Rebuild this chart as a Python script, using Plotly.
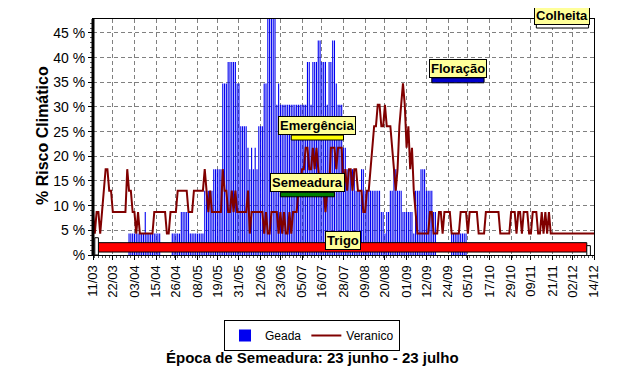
import plotly.graph_objects as go
import pandas as pd

# ---------------- data ----------------
N_ANOS = 23  # years in the series; values are counts of years with occurrence
START = "2001-03-11"
END = "2001-12-14"

# Geada: number of years with frost per day (11/03 .. 14/12)
geada_anos = [
    0, 0, 0, 0, 0, 0, 0, 0, 0, 0,
    0, 0, 0, 0, 0, 0, 0, 0, 0, 0,
    1, 1, 1, 1, 1, 1, 1, 1, 1, 2,
    1, 1, 1, 1, 1, 1, 1, 1, 0, 0,
    0, 0, 0, 0, 1, 1, 1, 1, 1, 2,
    2, 2, 2, 2, 1, 1, 1, 1, 1, 1,
    1, 1, 3, 3, 3, 3, 3, 4, 4, 4,
    4, 4, 8, 8, 8, 9, 9, 9, 9, 9,
    8, 8, 6, 6, 6, 6, 5, 4, 5, 4,
    5, 4, 6, 6, 6, 8, 8, 11, 11, 11,
    11, 11, 7, 8, 7, 7, 7, 7, 7, 7,
    7, 7, 7, 7, 7, 7, 7, 7, 7, 9,
    9, 7, 9, 9, 9, 10, 10, 9, 9, 9,
    7, 9, 9, 10, 10, 8, 7, 7, 7, 5,
    5, 4, 4, 4, 4, 4, 3, 3, 3, 4,
    4, 3, 3, 3, 3, 3, 3, 3, 3, 3,
    2, 2, 1, 2, 2, 3, 3, 4, 4, 3,
    3, 3, 2, 2, 2, 2, 2, 2, 1, 3,
    3, 3, 4, 4, 4, 3, 3, 3, 3, 2,
    2, 0, 0, 0, 0, 0, 0, 0, 0, 1,
    1, 1, 1, 1, 1, 1, 1, 1, 0, 0,
    0, 0, 0, 0, 0, 0, 0, 0, 0, 0,
    0, 0, 0, 0, 0, 0, 0, 0, 0, 0,
    0, 0, 0, 0, 0, 0, 0, 0, 0, 0,
    0, 0, 0, 0, 0, 0, 0, 0, 0, 0,
    0, 0, 0, 0, 0, 0, 0, 0, 0, 0,
    0, 0, 0, 0, 0, 0, 0, 0, 0, 0,
    0, 0, 0, 0, 0, 0, 0, 0, 0,
]

# Veranico: number of years with dry spell per day
veranico_anos = [
    2, 1, 2, 2, 1, 2, 3, 4, 4, 3,
    3, 2, 2, 2, 2, 2, 2, 2, 2, 4,
    3, 3, 2, 2, 1, 2, 1, 1, 1, 1,
    1, 1, 1, 1, 2, 2, 2, 2, 2, 2,
    2, 1, 1, 2, 2, 2, 2, 3, 3, 3,
    3, 3, 3, 2, 2, 2, 3, 3, 3, 3,
    3, 3, 4, 3, 2, 3, 2, 2, 2, 2,
    2, 2, 4, 3, 3, 2, 2, 3, 2, 3,
    2, 2, 2, 2, 2, 2, 3, 1, 2, 2,
    2, 2, 2, 2, 2, 1, 2, 1, 1, 2,
    2, 2, 2, 1, 2, 1, 2, 1, 1, 2,
    1, 2, 2, 2, 3, 3, 4, 4, 5, 5,
    4, 4, 5, 4, 5, 4, 3, 3, 3, 2,
    3, 3, 5, 5, 5, 4, 5, 5, 5, 3,
    4, 3, 4, 4, 3, 4, 4, 3, 3, 3,
    2, 2, 3, 3, 4, 5, 6, 6, 7, 7,
    6, 6, 7, 6, 6, 6, 5, 4, 3, 4,
    6, 7, 8, 7, 5, 6, 4, 5, 3, 2,
    1, 1, 1, 1, 1, 1, 1, 2, 2, 1,
    1, 1, 2, 2, 1, 2, 2, 2, 2, 1,
    1, 1, 1, 1, 2, 2, 2, 2, 1, 2,
    2, 2, 2, 2, 1, 1, 1, 1, 2, 2,
    2, 2, 2, 2, 2, 2, 1, 1, 1, 1,
    1, 1, 2, 2, 2, 1, 2, 2, 1, 2,
    2, 2, 1, 1, 2, 2, 2, 1, 1, 2,
    1, 2, 1, 2, 1, 1, 1, 1, 1, 1,
    1, 1, 1, 1, 1, 1, 1, 1, 1, 1,
    1, 1, 1, 1, 1, 1, 1, 1, 1,
]

x_tick_labels = ["11/03", "22/03", "03/04", "15/04", "26/04", "08/05", "19/05",
                 "31/05", "12/06", "23/06", "05/07", "16/07", "28/07", "09/08",
                 "20/08", "01/09", "12/09", "24/09", "05/10", "17/10", "29/10",
                 "09/11", "21/11", "02/12", "14/12"]
y_tick_values = [0, 5, 10, 15, 20, 25, 30, 35, 40, 45]
y_tick_labels = ["%", "5 %", "10 %", "15 %", "20 %", "25 %", "30 %", "35 %", "40 %", "45 %"]

# crop stages (phenology bars)
stage_names = ["Trigo", "Semeadura", "Emergência", "Floração", "Colheita"]
stage_start = ["2001-03-14", "2001-06-23", "2001-06-29", "2001-09-15", "2001-11-12"]
stage_end = ["2001-12-10", "2001-07-23", "2001-07-28", "2001-10-14", "2001-12-11"]

# ---------------- helpers ----------------
dates = pd.date_range(START, periods=len(geada_anos), freq="D")
geada = [v * 100.0 / N_ANOS for v in geada_anos]
veranico = [v * 100.0 / N_ANOS for v in veranico_anos]
tickvals = [pd.Timestamp(2001, int(t.split("/")[1]), int(t.split("/")[0])) for t in x_tick_labels]

OFF = 8  # page body margin
W, H = 625 - 2 * OFF, 389 - 2 * OFF
# plot area in screen pixels of the target picture
L, R, T, B = 93, 594, 19, 255
def px_x(x):
    return (x - L) / (R - L)
def px_y(y):
    return (B - y) / (B - T)

FONT = "Liberation Sans, Arial, sans-serif"
DAY_MS = 86400000

fig = go.Figure()
fig.add_trace(go.Bar(x=dates, y=geada, name="Geada", width=0.6 * DAY_MS,
                     marker=dict(color="#0000F0", line=dict(width=0.02, color="#0000F0"))))
fig.add_trace(go.Scatter(x=dates, y=veranico, mode="lines", name="Veranico",
                         line=dict(color="#800000", width=2)))

# stage bar styling (layout only)
stage_style = {
    "Trigo":      dict(y0=0.6, y1=2.5, fill="#FF0000", shift=0),
    "Semeadura":  dict(y0=11.8, y1=12.7, fill="#008000", shift=0),
    "Emergência": dict(y0=23.3, y1=24.3, fill="#FFFF00", shift=0),
    "Floração":   dict(y0=34.9, y1=35.9, fill="#0000CC", shift=0),
    "Colheita":   dict(y0=46.0, y1=47.1, fill="#FFFFFF", shift=-2),
}
shapes = []
annotations = []
for name, s, e in zip(stage_names, stage_start, stage_end):
    st = stage_style[name]
    shapes.append(dict(type="rect", xref="x", yref="y", x0=s, x1=e, y0=st["y0"], y1=st["y1"],
                       fillcolor=st["fill"], line=dict(color="black", width=1), layer="above"))
    mid = pd.Timestamp(s) + (pd.Timestamp(e) - pd.Timestamp(s)) / 2
    ya = st["y1"] if name != "Trigo" else 1.0
    annotations.append(dict(x=mid, y=ya, xref="x", yref="y", text="<b>%s</b>" % name,
                            showarrow=False, yanchor="bottom", xanchor="center", yshift=st["shift"],
                            bgcolor="#FFFF99", bordercolor="black", borderwidth=1, borderpad=1,
                            font=dict(family=FONT, size=13, color="black")))

# small white markers at the ends of the crop cycle
shapes.append(dict(type="rect", xref="x", yref="y", x0="2001-03-12", x1="2001-03-14", y0=0, y1=3.5,
                   fillcolor="white", line=dict(color="black", width=1), layer="above"))
shapes.append(dict(type="rect", xref="x", yref="y", x0="2001-12-10", x1="2001-12-12", y0=-0.3, y1=1.9,
                   fillcolor="white", line=dict(color="black", width=1), layer="above"))
# thick left axis
shapes.append(dict(type="line", xref="paper", yref="paper", x0=0, x1=0, y0=0, y1=1,
                   line=dict(color="black", width=3), layer="above"))

annotations.append(dict(x=px_x(42), y=px_y(136), xref="paper", yref="paper",
                        xanchor="center", yanchor="middle",
                        text="<b>% Risco Climático</b>", textangle=-90, showarrow=False,
                        font=dict(family=FONT, size=16, color="black")))
annotations.append(dict(x=px_x(312), y=px_y(357), xref="paper", yref="paper",
                        xanchor="center", yanchor="middle",
                        text="<b>Época de Semeadura: 23 junho - 23 julho</b>", showarrow=False,
                        font=dict(family=FONT, size=15, color="black")))

fig.update_layout(
    width=W, height=H,
    margin=dict(l=L - OFF, r=W - (R - OFF), t=T - OFF, b=H - (B - OFF), autoexpand=False),
    paper_bgcolor="white", plot_bgcolor="white",
    showlegend=True,
    legend=dict(orientation="h", x=px_x(312), xanchor="center", y=px_y(320), yanchor="top",
                bordercolor="black", borderwidth=1, bgcolor="white",
                font=dict(family=FONT, size=12, color="black"), itemwidth=30,
                traceorder="normal"),
    shapes=shapes,
    annotations=annotations,
    font=dict(family=FONT, color="black"),
)
fig.update_xaxes(type="date", range=[START, END],
                 tickvals=tickvals, ticktext=x_tick_labels, tickangle=-90,
                 tickfont=dict(family=FONT, size=13, color="black"),
                 showgrid=True, gridcolor="#808080", griddash="4px,3px", gridwidth=1,
                 showline=True, linecolor="black", linewidth=1, mirror=True,
                 ticks="outside", ticklen=4, tickcolor="black",
                 minor=dict(dtick=2 * DAY_MS, ticks="outside", ticklen=2, tickcolor="#555555",
                            showgrid=False),
                 zeroline=False)
fig.update_yaxes(range=[0, 47.83], tickvals=y_tick_values, ticktext=y_tick_labels,
                 tickfont=dict(family=FONT, size=14, color="black"),
                 showgrid=True, gridcolor="#808080", griddash="4px,3px", gridwidth=1,
                 showline=True, linecolor="black", linewidth=1, mirror=True,
                 ticks="outside", ticklen=4, tickcolor="black",
                 minor=dict(dtick=1, ticks="outside", ticklen=2, tickcolor="#555555", showgrid=False),
                 zeroline=False)

fig.write_html("out.html")
